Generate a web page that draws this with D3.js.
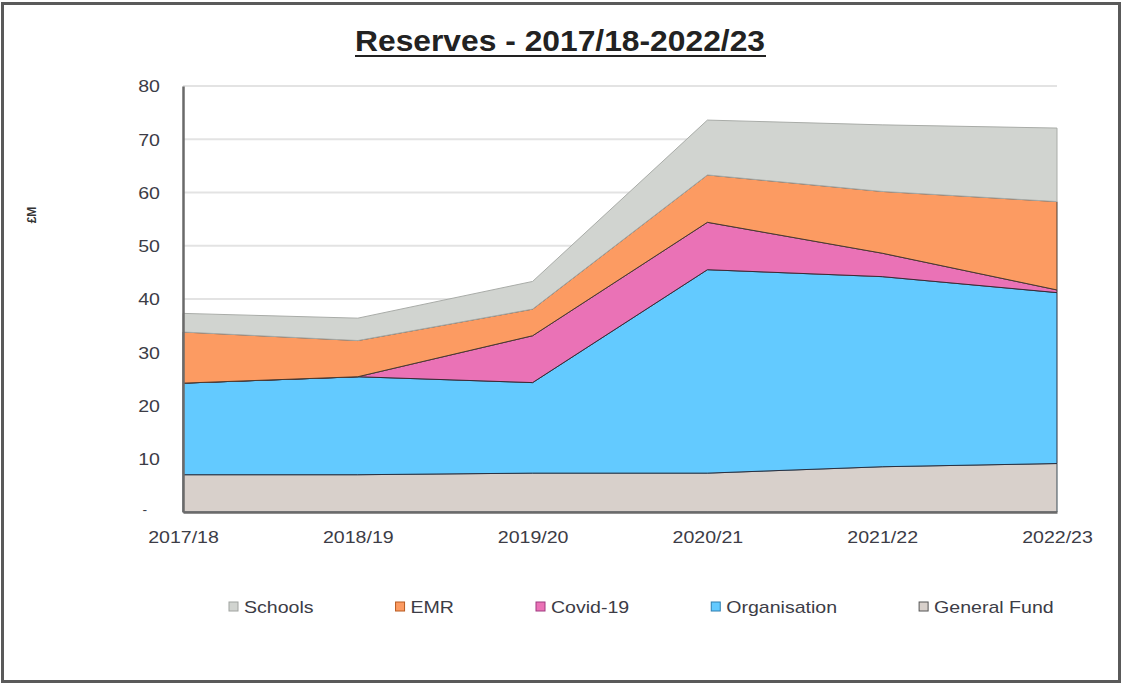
<!DOCTYPE html>
<html><head><meta charset="utf-8">
<script src="https://cdn.jsdelivr.net/npm/d3@7"></script>
<style>
html,body{margin:0;padding:0;background:#fff;}
svg{display:block;font-family:"Liberation Sans",Arial,sans-serif;}
</style></head>
<body>
<svg id="chart" width="1127" height="684"></svg>
<script>
// ---- data ----
const years = ["2017/18","2018/19","2019/20","2020/21","2021/22","2022/23"];
const generalFund  = [7.0, 7.0, 7.3, 7.3, 8.5, 9.1];
const organisation = [17.2, 18.4, 17.0, 38.2, 35.7, 32.1];
const covid19      = [0.0, 0.0, 8.8, 8.9, 4.4, 0.5];
const emr          = [9.6, 6.8, 5.0, 8.9, 11.6, 16.6];
const schools      = [3.5, 4.2, 5.2, 10.3, 12.5, 13.8];
const yTicks = [0,10,20,30,40,50,60,70,80];
const seriesNames = ["General Fund","Organisation","Covid-19","EMR","Schools"];
const legendOrder = ["Schools","EMR","Covid-19","Organisation","General Fund"];

(function(){
const colors = {"General Fund":"#d8d0cb","Organisation":"#63caff","Covid-19":"#ea72b6","EMR":"#fc9b62","Schools":"#d1d4d0"};
const strokes = {"General Fund":"#3a4a55","Organisation":"#2a3040","Covid-19":"#3a2a35","EMR":"#4a3a30","Schools":"#a9aca8"};
const markerStroke = {"General Fund":"#555","Organisation":"#2f7fb0","Covid-19":"#a03a80","EMR":"#b85a20","Schools":"#a0a3a0"};

const table = years.map((y,i)=>({year:y,"General Fund":generalFund[i],"Organisation":organisation[i],"Covid-19":covid19[i],"EMR":emr[i],"Schools":schools[i]}));

const svg = d3.select("#chart");
const mLeft=183,mRight=1057,mTop=86,mBottom=512;
const STRETCH=1.15;

// frame
svg.append("rect").attr("x",2.5).attr("y",3.5).attr("width",1117).attr("height",678)
  .attr("fill","#fff").attr("stroke","#5a5a5a").attr("stroke-width",3);

const x = d3.scalePoint().domain(years).range([mLeft,mRight]);
const y = d3.scaleLinear().domain([0,80]).range([mBottom,mTop]);

// gridlines
svg.append("g").selectAll("line").data(yTicks.filter(t=>t>0)).join("line")
  .attr("x1",mLeft).attr("x2",mRight).attr("y1",d=>y(d)).attr("y2",d=>y(d))
  .attr("stroke","#e3e3e3").attr("stroke-width",2);

// stacked areas
const stack = d3.stack().keys(seriesNames);
const layers = stack(table);
const area = d3.area().x(d=>x(d.data.year)).y0(d=>y(d[0])).y1(d=>y(d[1]));
svg.append("g").selectAll("path").data(layers).join("path")
  .attr("d",area)
  .attr("fill",d=>colors[d.key])
  .attr("stroke",d=>strokes[d.key])
  .attr("stroke-width",1)
  .attr("stroke-linejoin","round");

// axes
const yAxis = d3.axisLeft(y).tickValues(yTicks).tickSize(0).tickPadding(0)
  .tickFormat(d=>d===0?"-":d);
const gy = svg.append("g").attr("transform",`translate(${mLeft},0)`).call(yAxis);
gy.select(".domain").attr("stroke","#6a6a6a").attr("stroke-width",2.5);
gy.selectAll("text").attr("x",-23).attr("dy","0.35em").attr("font-size",17)
  .attr("fill","#3c3c46").attr("text-anchor","end");
gy.selectAll("text").filter(d=>d===0).attr("x",-36).attr("font-size",12).attr("dy","0.1em");

const xAxis = d3.axisBottom(x).tickSize(0).tickPadding(0);
const gx = svg.append("g").attr("transform",`translate(0,${mBottom})`).call(xAxis);
gx.select(".domain").attr("stroke","#6a6a6a").attr("stroke-width",2.5);
gx.selectAll("text").attr("y",31).attr("dy","0").attr("font-size",17).attr("fill","#3c3c46");

// y axis title
svg.append("text").attr("transform","translate(36,215) rotate(-90)")
  .attr("text-anchor","middle").attr("font-size",12).attr("font-weight","bold")
  .attr("fill","#333").text("£M");

// title
svg.append("text").attr("x",560).attr("y",51).attr("text-anchor","middle")
  .attr("font-size",29).attr("font-weight","bold").attr("fill","#222")
  .attr("textLength",410).attr("lengthAdjust","spacingAndGlyphs")
  .text("Reserves - 2017/18-2022/23");
svg.append("line").attr("x1",355).attr("x2",766).attr("y1",56).attr("y2",56)
  .attr("stroke","#222").attr("stroke-width",2);

// legend
const lg = svg.append("g");
let lx = 229;
const ly = 607;
legendOrder.forEach(name=>{
  lg.append("rect").attr("x",lx).attr("y",ly-5).attr("width",9).attr("height",9)
    .attr("fill",colors[name]).attr("stroke",markerStroke[name]).attr("stroke-width",1);
  const t = lg.append("text").attr("x",lx+15).attr("y",ly).attr("dy","0.35em")
    .attr("font-size",17).attr("fill","#3c3c46").text(name);
  const w = t.node().getComputedTextLength()*STRETCH;
  t.attr("textLength",w).attr("lengthAdjust","spacingAndGlyphs");
  lx += 15 + w + 82;
});

// stretch tick labels horizontally
[gx,gy].forEach(g=>g.selectAll("text").each(function(){
  const w=this.getComputedTextLength()*STRETCH;
  d3.select(this).attr("textLength",w).attr("lengthAdjust","spacingAndGlyphs");
}));
})();
</script>
</body></html>
